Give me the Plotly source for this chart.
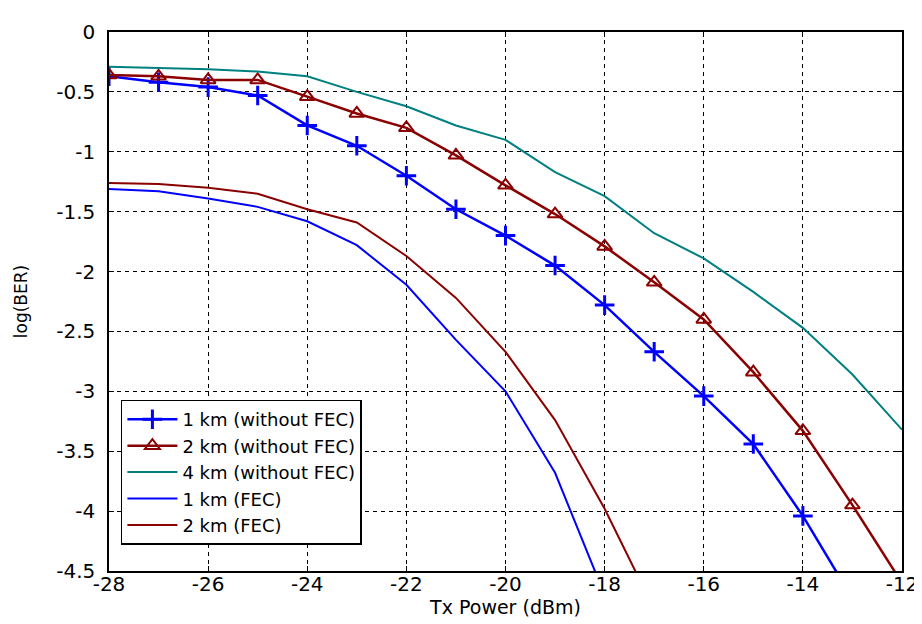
import plotly.graph_objects as go

# ---- data ----
x_1km_nofec = [-28, -27, -26, -25, -24, -23, -22, -21, -20, -19, -18, -17, -16, -15, -14, -13]
y_1km_nofec = [-0.37, -0.42, -0.46, -0.53, -0.78, -0.95, -1.20, -1.48, -1.70, -1.95, -2.28, -2.67, -3.04, -3.44, -4.04, -4.73]

x_2km_nofec = [-28, -27, -26, -25, -24, -23, -22, -21, -20, -19, -18, -17, -16, -15, -14, -13, -12]
y_2km_nofec = [-0.36, -0.37, -0.40, -0.40, -0.54, -0.68, -0.80, -1.03, -1.28, -1.52, -1.79, -2.09, -2.40, -2.84, -3.33, -3.95, -4.60]

x_4km_nofec = [-28, -27, -26, -25, -24, -23, -22, -21, -20, -19, -18, -17, -16, -15, -14, -13, -12]
y_4km_nofec = [-0.29, -0.30, -0.31, -0.33, -0.37, -0.50, -0.62, -0.78, -0.90, -1.17, -1.37, -1.68, -1.89, -2.17, -2.47, -2.86, -3.32]

x_1km_fec = [-28, -27, -26, -25, -24, -23, -22, -21, -20, -19, -18]
y_1km_fec = [-1.31, -1.33, -1.39, -1.46, -1.58, -1.78, -2.11, -2.57, -3.00, -3.68, -4.70]

x_2km_fec = [-28, -27, -26, -25, -24, -23, -22, -21, -20, -19, -18, -17]
y_2km_fec = [-1.26, -1.27, -1.30, -1.35, -1.48, -1.59, -1.87, -2.22, -2.67, -3.24, -3.98, -4.82]

x_tickvals = [-28, -26, -24, -22, -20, -18, -16, -14, -12]
x_ticktext = ["-28", "-26", "-24", "-22", "-20", "-18", "-16", "-14", "-12"]
y_tickvals = [0, -0.5, -1, -1.5, -2, -2.5, -3, -3.5, -4, -4.5]
y_ticktext = ["0", "-0.5", "-1", "-1.5", "-2", "-2.5", "-3", "-3.5", "-4", "-4.5"]

BLUE = "#0000FF"
DRED = "#8B0000"
TEAL = "#008080"
FONT = "DejaVu Sans"

fig = go.Figure()
fig.add_trace(go.Scatter(
    x=x_1km_nofec, y=y_1km_nofec, mode="lines+markers", name="1 km (without FEC)",
    line=dict(color=BLUE, width=2.5),
    marker=dict(symbol="cross-thin", size=14, line=dict(color=BLUE, width=3)),
))
fig.add_trace(go.Scatter(
    x=x_2km_nofec, y=y_2km_nofec, mode="lines+markers", name="2 km (without FEC)",
    line=dict(color=DRED, width=2.5),
    marker=dict(symbol="triangle-up-open", size=13, color=DRED, line=dict(color=DRED, width=2)),
))
fig.add_trace(go.Scatter(
    x=x_4km_nofec, y=y_4km_nofec, mode="lines", name="4 km (without FEC)",
    line=dict(color=TEAL, width=2),
))
fig.add_trace(go.Scatter(
    x=x_1km_fec, y=y_1km_fec, mode="lines", name="1 km (FEC)",
    line=dict(color=BLUE, width=2),
))
fig.add_trace(go.Scatter(
    x=x_2km_fec, y=y_2km_fec, mode="lines", name="2 km (FEC)",
    line=dict(color=DRED, width=2),
))

axis_common = dict(
    showline=True, linecolor="black", linewidth=1.5, mirror="ticks",
    ticks="inside", ticklen=5, tickcolor="black",
    showgrid=True, gridcolor="black", gridwidth=1, griddash="4px,4px",
    zeroline=False,
    tickfont=dict(family=FONT, size=20, color="black"),
)

fig.update_layout(
    width=922, height=624,
    margin=dict(l=100, r=17, t=18, b=61),
    paper_bgcolor="white", plot_bgcolor="white",
    font=dict(family=FONT, size=20, color="black"),
    showlegend=True,
    legend=dict(
        x=0.015, y=0.318, xanchor="left", yanchor="top",
        bgcolor="white", bordercolor="black", borderwidth=1.5,
        font=dict(family=FONT, size=18, color="black"),
        tracegroupgap=0, itemwidth=50,
    ),
    xaxis=dict(
        range=[-28, -12], tickvals=x_tickvals, ticktext=x_ticktext,
        ticklabelstandoff=-6,
        title=dict(text="Tx Power (dBm)", standoff=6, font=dict(family=FONT, size=19)),
        **axis_common,
    ),
    yaxis=dict(
        range=[-4.5, 0], tickvals=y_tickvals, ticktext=y_ticktext,
        ticklabelstandoff=8,
        title=dict(text="log(BER)", standoff=24, font=dict(family=FONT, size=17)),
        **axis_common,
    ),
)

fig.write_html("out.html")
